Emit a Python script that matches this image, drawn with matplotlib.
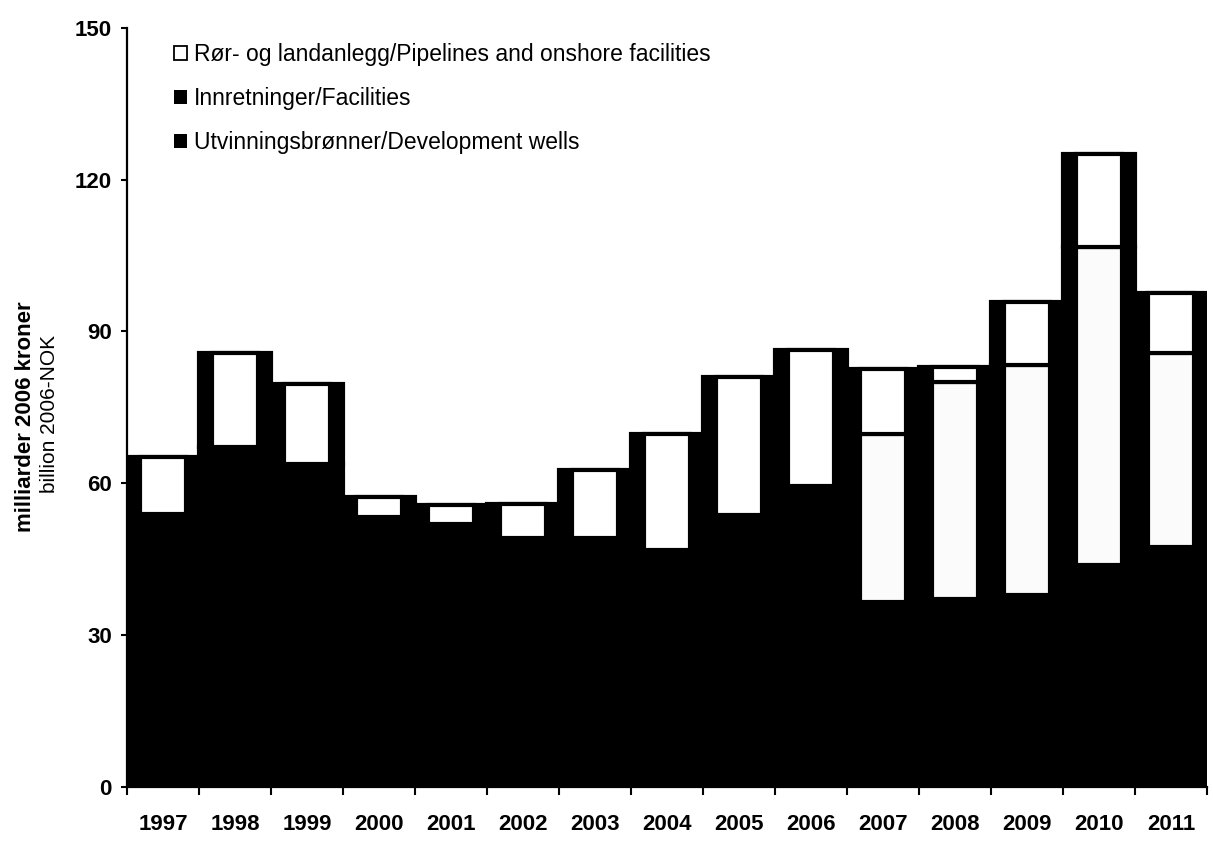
import numpy as np
import matplotlib.pyplot as plt

plt.rcParams['font.family'] = ['Liberation Sans', 'DejaVu Sans']

# Investeringer, milliarder 2006-kroner (2007-2011 er prognoser)
years = [1997, 1998, 1999, 2000, 2001, 2002, 2003, 2004, 2005, 2006,
         2007, 2008, 2009, 2010, 2011]
wells = [17.0, 19.5, 18.0, 18.5, 20.0, 21.0, 22.5, 24.0, 27.0, 30.5,
         36.5, 37.0, 37.9, 43.8, 47.4]
facilities = [36.9, 47.7, 45.8, 34.7, 32.0, 28.1, 26.6, 22.8, 26.7, 29.0,
              33.2, 43.0, 45.5, 62.9, 38.4]
pipelines = [11.3, 18.5, 15.7, 4.1, 3.7, 6.8, 13.5, 22.9, 27.3, 26.9,
             12.9, 3.0, 12.5, 18.4, 11.8]
first_forecast = 2007

labels = ['Rør- og landanlegg/Pipelines and onshore facilities',
          'Innretninger/Facilities',
          'Utvinningsbrønner/Development wells']

x = np.arange(len(years))
w = np.array(wells)
f = np.array(facilities)
p = np.array(pipelines)
forecast = np.array(years) >= first_forecast

fig = plt.figure(figsize=(12.13, 8.41), dpi=100)
ax = fig.add_axes([0.1047, 0.0648, 0.8904, 0.9019])

# black columns, touching each other
frame = dict(color='black', edgecolor='black', linewidth=3)
b_wells = ax.bar(x, w, 1.0, **frame)
b_fac = ax.bar(x, f, 1.0, bottom=w, **frame)
ax.bar(x, p, 1.0, bottom=w + f, **frame)

# light fills inside the black frames
inner = 0.64
ax.bar(x[forecast], f[forecast], inner, bottom=w[forecast],
       color='#fbfbfb', edgecolor='black', linewidth=3)
b_pipe = ax.bar(x, p, inner, bottom=w + f, color='white',
                edgecolor='black', linewidth=3)

ax.set_xlim(-0.5, len(years) - 0.5)
ax.set_ylim(0, 150)
ax.set_yticks(range(0, 151, 30))
ax.set_xticks(np.arange(len(years) + 1) - 0.5)
ax.set_xticklabels([])
ax.set_xticks(x, minor=True)
ax.set_xticklabels([str(y) for y in years], minor=True)

for s in ['top', 'right']:
    ax.spines[s].set_visible(False)
for s in ['left', 'bottom']:
    ax.spines[s].set_linewidth(1.6)
    ax.spines[s].set_zorder(0.5)

ax.tick_params(axis='y', length=4, width=1.5, pad=7, labelsize=16)
ax.tick_params(axis='x', which='major', length=6, width=1.5)
ax.tick_params(axis='x', which='minor', length=0, pad=20, labelsize=16)
for t in ax.get_yticklabels() + ax.get_xticklabels(minor=True):
    t.set_fontweight('bold')

leg = ax.legend([b_pipe, b_fac, b_wells], labels, loc='upper left',
                bbox_to_anchor=(0.033, 0.995), frameon=False, fontsize=16.5,
                handlelength=0.55, handleheight=0.55, handletextpad=0.3,
                labelspacing=0.92, borderpad=0)
leg.legend_handles[0].set_linewidth(1.3)
for h in leg.legend_handles[1:]:
    h.set_linewidth(0)

fig.text(0.021, 0.505, 'milliarder 2006 kroner', rotation=90, ha='center',
         va='center', fontsize=16, fontweight='bold')
fig.text(0.041, 0.508, 'billion 2006-NOK', rotation=90, ha='center',
         va='center', fontsize=15)

fig.savefig('out.png', dpi=100)
